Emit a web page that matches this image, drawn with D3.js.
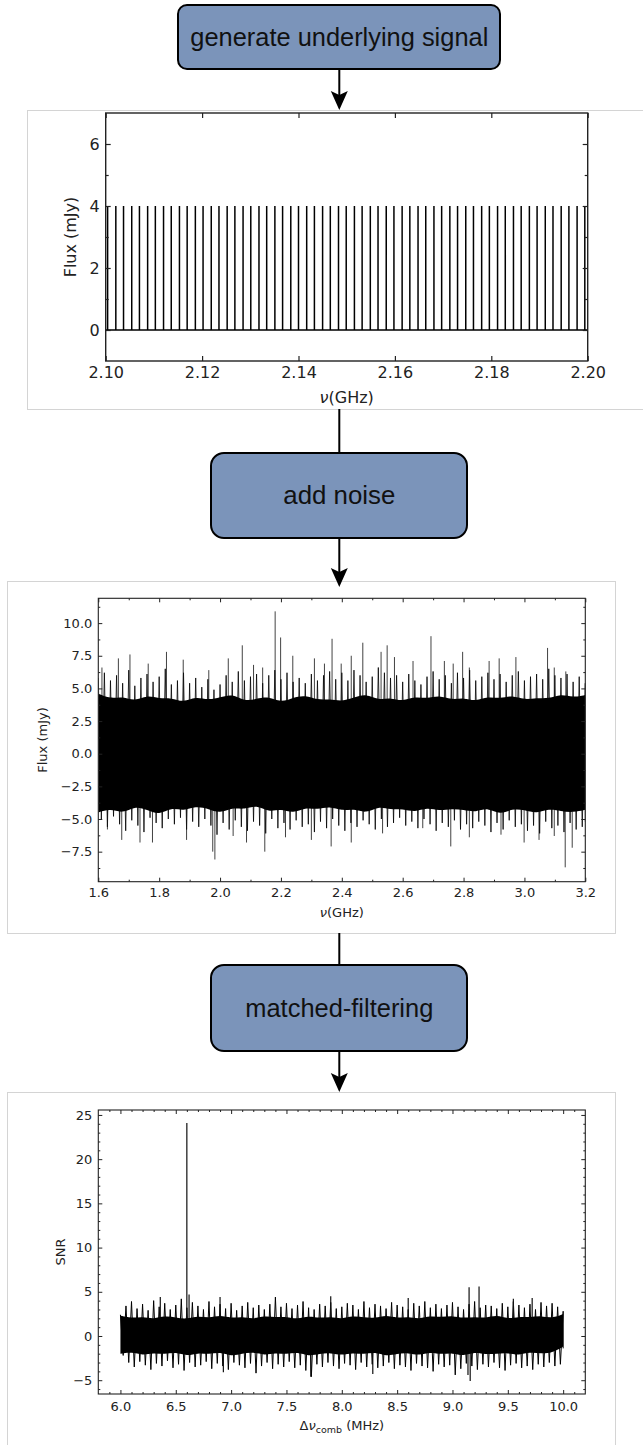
<!DOCTYPE html>
<html>
<head>
<meta charset="utf-8">
<script src="https://cdn.jsdelivr.net/npm/d3@7"></script>
<style>
  body { margin: 0; background: #fff; }
  svg { display: block; }
</style>
</head>
<body>
<script>
// ---- flow chart steps
var stepLabels = ['generate underlying signal', 'add noise', 'matched-filtering'];

// ---- panel 1: comb signal (GHz, mJy)
var combFreq = [2.1004, 2.1021, 2.1037, 2.1054, 2.1070, 2.1087, 2.1103, 2.1120, 2.1136, 2.1153,
  2.1169, 2.1186, 2.1202, 2.1219, 2.1235, 2.1252, 2.1268, 2.1285, 2.1301, 2.1318,
  2.1334, 2.1351, 2.1367, 2.1384, 2.1400, 2.1417, 2.1433, 2.1450, 2.1466, 2.1483,
  2.1499, 2.1516, 2.1532, 2.1549, 2.1565, 2.1582, 2.1598, 2.1615, 2.1631, 2.1648,
  2.1664, 2.1681, 2.1697, 2.1714, 2.1730, 2.1747, 2.1763, 2.1780, 2.1796, 2.1813,
  2.1829, 2.1846, 2.1862, 2.1879, 2.1895, 2.1912, 2.1928, 2.1945, 2.1961, 2.1978, 2.1994];
var combFlux = 4;
var combXTicks = [2.10, 2.12, 2.14, 2.16, 2.18, 2.20];
var combYTicks = [0, 2, 4, 6];
var combYMinor = [1, 3, 5];

// ---- panel 2: noisy spectrum, read as envelopes (1.60 -> 3.20 GHz)
var noiseCoreTop = [4.6, 4.2, 4.4, 4.0, 4.5, 4.2, 4.3, 3.9, 4.4, 4.1, 4.3, 4.6, 4.0, 4.2, 4.4, 3.9, 4.3, 4.5, 4.1, 4.2,
  4.0, 4.3, 4.6, 4.1, 4.3, 4.0, 4.4, 4.2, 4.5, 4.1, 4.3, 4.0, 4.4, 4.2, 4.5, 4.1, 4.3, 4.2, 4.6, 4.3, 4.5];
var noiseCoreBottom = [-4.5, -4.2, -4.6, -4.0, -4.3, -4.7, -4.1, -4.4, -4.0, -4.2, -4.6, -4.1, -4.3, -3.9, -4.5, -4.2, -4.6, -4.1, -4.3, -4.0,
  -4.4, -4.2, -4.6, -4.0, -4.3, -4.2, -4.5, -4.1, -4.4, -4.2, -4.3, -4.5, -4.1, -4.7, -4.2, -4.3, -4.6, -4.2, -4.4, -4.5, -4.3];
var noiseUpper = [5.8, 6.2, 5.6, 6.0, 5.4, 6.4, 5.2, 5.8, 6.1, 5.5, 5.9, 6.5, 5.3, 5.6, 6.2, 5.4, 5.8, 5.1, 5.7, 4.9,
  5.3, 6.0, 5.5, 6.3, 5.6, 5.9, 6.1, 5.4, 6.0, 6.4, 5.7, 6.2, 5.5, 5.8, 5.4, 6.1, 5.6, 6.0, 6.3, 5.7,
  6.2, 5.6, 6.4, 6.0, 5.5, 5.9, 6.6, 6.2, 5.8, 6.0, 5.5, 6.1, 5.6, 5.3, 5.9, 6.3, 5.7, 6.0, 5.4, 6.2,
  5.8, 6.4, 5.6, 5.9, 6.2, 5.7, 6.1, 5.5, 6.0, 6.3, 5.6, 5.9, 6.1, 5.7, 6.5, 6.0, 5.8, 6.1, 5.5, 5.9, 5.4];
var noiseLower = [-5.0, -5.6, -4.8, -5.4, -5.9, -5.1, -5.5, -6.0, -4.9, -5.3, -5.7, -5.0, -5.4, -4.9, -5.8, -5.2, -5.6, -5.0, -5.5, -6.2,
  -5.3, -5.8, -5.1, -5.6, -5.9, -5.2, -5.5, -6.1, -5.0, -5.7, -5.3, -5.8, -5.1, -5.6, -5.4, -6.0, -5.2, -5.7, -5.0, -5.5,
  -5.9, -5.3, -5.6, -5.1, -5.4, -5.8, -5.0, -5.6, -5.3, -4.9, -5.5, -5.2, -5.7, -5.0, -5.4, -5.9, -5.3, -5.6, -5.1, -5.8,
  -5.4, -5.7, -5.2, -5.5, -6.0, -5.3, -5.8, -5.1, -5.6, -5.4, -5.9, -5.5, -6.1, -5.2, -5.7, -5.5, -6.0, -5.3, -5.8, -5.6, -5.2];
var noiseSpikeFreq = [1.612, 1.666, 1.704, 1.764, 1.824, 1.879, 1.963, 2.027, 2.073, 2.110, 2.140, 2.181, 2.199, 2.239, 2.310,
  2.343, 2.368, 2.398, 2.431, 2.469, 2.529, 2.549, 2.573, 2.634, 2.693, 2.737, 2.766, 2.797, 2.819, 2.884, 2.917, 2.972,
  3.076, 3.098, 3.136,
  1.630, 1.677, 1.737, 1.778, 1.890, 1.976, 1.983, 2.043, 2.087, 2.147, 2.215, 2.300, 2.365, 2.431, 2.534, 2.666,
  2.758, 2.819, 2.923, 2.999, 3.048, 3.098, 3.134, 3.157];
var noiseSpikeFlux = [6.6, 7.3, 7.6, 6.9, 7.8, 7.2, 6.4, 7.3, 8.3, 6.8, 6.6, 10.9, 8.9, 7.5, 7.3,
  6.9, 8.8, 6.9, 7.5, 8.5, 7.8, 8.3, 7.4, 7.1, 9.0, 7.1, 6.9, 7.8, 6.6, 7.1, 7.3, 7.4,
  8.1, 6.6, 6.3,
  -5.8, -6.6, -6.8, -6.8, -6.6, -7.5, -8.1, -6.3, -6.8, -7.5, -6.4, -6.6, -7.1, -6.8, -6.1, -5.7,
  -7.1, -6.4, -6.2, -6.8, -6.6, -6.3, -8.7, -7.2];
var noiseXTicks = [1.6, 1.8, 2.0, 2.2, 2.4, 2.6, 2.8, 3.0, 3.2];
var noiseXMinor = [1.7, 1.9, 2.1, 2.3, 2.5, 2.7, 2.9, 3.1];
var noiseYTicks = [-7.5, -5.0, -2.5, 0.0, 2.5, 5.0, 7.5, 10.0];
var noiseYMinor = [-8.75, -6.25, -3.75, -1.25, 1.25, 3.75, 6.25, 8.75, 11.25];

// ---- panel 3: matched filter output (6.0 -> 10.0 MHz)
var snrCoreTop = [2.3, 2.0, 2.2, 1.9, 2.3, 2.1, 1.9, 2.3, 2.0, 2.4, 2.0, 2.2, 1.9, 2.3, 2.1, 2.2, 1.9, 2.3, 2.0, 2.2,
  1.9, 2.3, 2.1, 2.0, 2.4, 2.0, 2.2, 1.9, 2.3, 2.1, 2.3, 2.0, 2.2, 2.0, 2.4, 1.9, 2.2, 2.1, 2.3, 2.0, 2.5];
var snrCoreBottom = [-2.0, -1.8, -2.2, -1.9, -2.1, -1.8, -2.3, -1.9, -2.1, -1.8, -2.3, -2.0, -1.8, -2.2, -1.9, -2.1, -1.8, -2.3, -2.0, -1.9,
  -2.2, -1.9, -2.1, -1.8, -2.3, -2.0, -1.9, -2.2, -1.8, -2.1, -1.9, -2.3, -1.8, -2.1, -2.0, -1.9, -2.2, -1.8, -2.0, -1.9, -1.2];
var snrUpper = [2.4, 3.4, 3.9, 3.1, 3.6, 2.9, 4.0, 3.3, 3.7, 3.0, 3.5, 4.2, 3.2, 3.8, 3.4, 3.0, 3.9, 3.3, 3.6, 3.1,
  3.7, 2.9, 3.4, 3.8, 3.2, 3.5, 3.0, 3.6, 4.4, 3.3, 3.7, 3.1, 3.5, 3.9, 3.2, 3.0, 3.6, 3.4, 3.8, 3.1,
  3.3, 3.7, 3.5, 3.0, 3.9, 3.2, 3.6, 3.4, 3.1, 3.8, 3.5, 3.3, 3.0, 3.7, 3.4, 3.9, 3.2, 3.6, 3.1, 3.5,
  3.8, 3.3, 3.0, 3.6, 3.9, 3.2, 3.5, 3.4, 3.1, 3.7, 3.3, 3.9, 3.5, 3.2, 3.6, 3.0, 3.8, 3.4, 3.7, 3.3, 2.8];
var snrLower = [-2.2, -3.0, -3.5, -2.9, -3.3, -3.8, -3.1, -3.4, -2.8, -3.6, -3.2, -3.9, -3.0, -3.5, -3.3, -2.9, -3.7, -3.1, -3.4, -3.8,
  -3.0, -3.3, -3.6, -3.1, -4.2, -3.4, -3.0, -3.7, -3.2, -3.5, -2.9, -3.6, -3.3, -3.9, -4.6, -3.2, -3.5, -3.0, -3.4, -3.7,
  -3.1, -3.3, -3.8, -3.0, -3.5, -3.2, -3.6, -3.4, -3.0, -3.7, -3.3, -3.5, -3.9, -3.1, -3.4, -3.6, -4.0, -3.2, -3.5, -3.3,
  -4.4, -3.7, -3.1, -3.4, -3.8, -3.2, -3.5, -3.0, -3.6, -3.9, -3.3, -3.1, -3.6, -3.4, -3.8, -3.2, -3.5, -3.0, -3.4, -3.2, -1.4];
var snrSpikeFreq = [6.60, 6.62, 6.36, 6.90, 7.90, 8.60, 9.15, 9.24, 9.55, 9.72, 6.93, 7.72, 8.28, 9.14, 9.16];
var snrSpikeVal = [24.1, 4.7, 4.4, 4.4, 4.5, 4.3, 5.5, 5.6, 4.2, 4.3, -4.1, -4.6, -4.3, -4.4, -5.1];
var snrXTicks = [6.0, 6.5, 7.0, 7.5, 8.0, 8.5, 9.0, 9.5, 10.0];
var snrXMinor = [5.9, 6.1, 6.2, 6.3, 6.4, 6.6, 6.7, 6.8, 6.9, 7.1, 7.2, 7.3, 7.4, 7.6, 7.7, 7.8, 7.9,
  8.1, 8.2, 8.3, 8.4, 8.6, 8.7, 8.8, 8.9, 9.1, 9.2, 9.3, 9.4, 9.6, 9.7, 9.8, 9.9, 10.1];
var snrYTicks = [-5, 0, 5, 10, 15, 20, 25];
var snrYMinor = [-6, -4, -3, -2, -1, 1, 2, 3, 4, 6, 7, 8, 9, 11, 12, 13, 14, 16, 17, 18, 19, 21, 22, 23, 24];

var W = 643, H = 1445;
var svg = d3.select('body').append('svg').attr('width', W).attr('height', H);
var plotFont = 'DejaVu Sans, sans-serif';

// light frames around the three pasted figures
var frames = [
  {x: 27, y: 110, w: 700, h: 299},
  {x: 7, y: 581, w: 608, h: 352},
  {x: 7, y: 1092, w: 608, h: 400}
];
svg.selectAll('.frame').data(frames).enter().append('rect')
  .attr('class', 'frame')
  .attr('x', function(d) { return d.x + 0.5; })
  .attr('y', function(d) { return d.y + 0.5; })
  .attr('width', function(d) { return d.w; })
  .attr('height', function(d) { return d.h; })
  .attr('fill', 'none')
  .attr('stroke', '#d4d4d4')
  .attr('stroke-width', 1);

// ---- flow boxes + connectors
var cx = 339.3;
var boxes = [
  {x: 178, y: 5, w: 322, h: 64, r: 9, base: 46, tw: 298},
  {x: 211, y: 453, w: 256, h: 85, r: 13, base: 504, tw: 112},
  {x: 211, y: 965, w: 256, h: 86, r: 13, base: 1017, tw: 188}
];

var links = [
  {y0: 69, y1: 110, head: true},
  {y0: 409, y1: 453, head: false},
  {y0: 538, y1: 587, head: true},
  {y0: 933, y1: 965, head: false},
  {y0: 1051, y1: 1092, head: true}
];
links.forEach(function(l) {
  var yEnd = l.head ? l.y1 - 12 : l.y1;
  svg.append('line')
    .attr('x1', cx).attr('x2', cx)
    .attr('y1', l.y0).attr('y2', yEnd)
    .attr('stroke', '#000').attr('stroke-width', 2);
  if (l.head) {
    svg.append('path')
      .attr('d', 'M' + cx + ',' + l.y1 + ' L' + (cx - 8.5) + ',' + (l.y1 - 19) +
        ' L' + cx + ',' + (l.y1 - 15) + ' L' + (cx + 8.5) + ',' + (l.y1 - 19) + ' Z')
      .attr('fill', '#000');
  }
});

boxes.forEach(function(b, i) {
  svg.append('rect')
    .attr('x', b.x).attr('y', b.y)
    .attr('width', b.w).attr('height', b.h)
    .attr('rx', b.r).attr('ry', b.r)
    .attr('fill', '#7b94ba')
    .attr('stroke', '#000')
    .attr('stroke-width', 2);
  svg.append('text')
    .attr('x', cx).attr('y', b.base)
    .attr('text-anchor', 'middle')
    .attr('font-family', 'Liberation Sans, Arial, sans-serif')
    .attr('font-size', 25)
    .attr('textLength', b.tw)
    .attr('lengthAdjust', 'spacingAndGlyphs')
    .attr('fill', '#111')
    .text(stepLabels[i]);
});

// ---- generic matplotlib-like axes
function makeAxes(o) {
  var g = svg.append('g');
  var x = d3.scaleLinear().domain(o.xDomain).range([o.left, o.right]);
  var y = d3.scaleLinear().domain(o.yDomain).range([o.bottom, o.top]);

  var clipId = 'clip' + Math.round(o.top);
  svg.append('clipPath').attr('id', clipId).append('rect')
    .attr('x', o.left).attr('y', o.top)
    .attr('width', o.right - o.left).attr('height', o.bottom - o.top);
  var plot = svg.append('g').attr('clip-path', 'url(#' + clipId + ')');

  function side(axisFn, ticks, len, fmt, tx, ty, pad) {
    var a = axisFn(axisFn === d3.axisBottom || axisFn === d3.axisTop ? x : y)
      .tickValues(ticks)
      .tickSize(-len)
      .tickPadding(pad || 0)
      .tickFormat(fmt || function() { return ''; });
    var s = g.append('g').attr('transform', 'translate(' + tx + ',' + ty + ')').call(a);
    s.select('.domain').remove();
    s.selectAll('line').attr('stroke', '#222').attr('stroke-width', o.tickWidth);
    s.selectAll('text').attr('font-family', plotFont).attr('font-size', o.fontSize).attr('fill', '#222');
    return s;
  }

  side(d3.axisBottom, o.xTicks, o.majorLen, o.xFmt, 0, o.bottom, o.xPad);
  side(d3.axisTop, o.xTicks, o.majorLen, null, 0, o.top);
  side(d3.axisLeft, o.yTicks, o.majorLen, o.yFmt, o.left, 0, o.yPad);
  side(d3.axisRight, o.yTicks, o.majorLen, null, o.right, 0);
  if (o.xMinor) {
    side(d3.axisBottom, o.xMinor, o.minorLen, null, 0, o.bottom);
    side(d3.axisTop, o.xMinor, o.minorLen, null, 0, o.top);
  }
  if (o.yMinor) {
    side(d3.axisLeft, o.yMinor, o.minorLen, null, o.left, 0);
    side(d3.axisRight, o.yMinor, o.minorLen, null, o.right, 0);
  }

  g.append('rect')
    .attr('x', o.left).attr('y', o.top)
    .attr('width', o.right - o.left).attr('height', o.bottom - o.top)
    .attr('fill', 'none').attr('stroke', '#222').attr('stroke-width', o.spineWidth);

  return {x: x, y: y, plot: plot, g: g};
}

function axisLabels(o) {
  var xl = svg.append('text')
    .attr('x', (o.left + o.right) / 2).attr('y', o.xLabelY)
    .attr('text-anchor', 'middle')
    .attr('font-family', plotFont).attr('font-size', o.fontSize).attr('fill', '#222');
  o.xLabel(xl);
  svg.append('text')
    .attr('transform', 'translate(' + o.yLabelX + ',' + (o.top + o.bottom) / 2 + ') rotate(-90)')
    .attr('text-anchor', 'middle')
    .attr('font-family', plotFont).attr('font-size', o.fontSize).attr('fill', '#222')
    .text(o.yLabel);
}

function nuGHz(t) {
  t.append('tspan').attr('font-style', 'italic').text('ν');
  t.append('tspan').text('(GHz)');
}

// ---- panel 1
var o1 = {
  left: 105.7, right: 587.7, top: 113, bottom: 361,
  xDomain: [2.10, 2.20], yDomain: [-1, 7],
  xTicks: combXTicks, yTicks: combYTicks, yMinor: combYMinor,
  xFmt: d3.format('.2f'), yFmt: d3.format('d'),
  majorLen: 5, minorLen: 3, tickWidth: 1.2, spineWidth: 1.4,
  fontSize: 16, xPad: 6, yPad: 6,
  xLabelY: 403, yLabelX: 76, yLabel: 'Flux (mJy)', xLabel: nuGHz
};
var ax1 = makeAxes(o1);
var combPath = d3.path();
combPath.moveTo(ax1.x(2.10), ax1.y(0));
combFreq.forEach(function(f) {
  combPath.lineTo(ax1.x(f), ax1.y(0));
  combPath.lineTo(ax1.x(f), ax1.y(combFlux));
  combPath.lineTo(ax1.x(f), ax1.y(0));
});
combPath.lineTo(ax1.x(2.20), ax1.y(0));
ax1.plot.append('path')
  .attr('d', combPath.toString())
  .attr('fill', 'none').attr('stroke', '#000').attr('stroke-width', 1.5);
ax1.g.raise();
axisLabels(o1);

// ---- draws a dense noise band from the read envelopes
function drawBand(ax, lo, hi, core, coreLo, up, dn, spikeF, spikeV, lw, spikeW) {
  var upIdx = d3.scaleLinear().domain([0, up.length - 1]).range([lo, hi]);
  var half = (hi - lo) / (up.length - 1) / 2;
  var pts = [];
  up.forEach(function(v, i) {
    pts.push([ax.x(upIdx(i)), ax.y(v)]);
    pts.push([ax.x(Math.min(hi, upIdx(i) + half)), ax.y(dn[i])]);
  });
  ax.plot.append('path')
    .attr('d', d3.line()(pts))
    .attr('fill', 'none').attr('stroke', '#000').attr('stroke-width', lw);

  ax.plot.selectAll(null).data(spikeF).enter().append('line')
    .attr('x1', function(d) { return ax.x(d); })
    .attr('x2', function(d) { return ax.x(d); })
    .attr('y1', ax.y(0))
    .attr('y2', function(d, i) { return ax.y(spikeV[i]); })
    .attr('stroke', '#111').attr('stroke-width', spikeW);

  var coreIdx = d3.scaleLinear().domain([0, core.length - 1]).range([lo, hi]);
  var area = d3.area()
    .x(function(d, i) { return ax.x(coreIdx(i)); })
    .y0(function(d, i) { return ax.y(coreLo[i]); })
    .y1(function(d) { return ax.y(d); })
    .curve(d3.curveBasis);
  ax.plot.append('path').attr('d', area(core)).attr('fill', '#000');
}

// ---- panel 2
var o2 = {
  left: 98.3, right: 585.3, top: 598.3, bottom: 881.7,
  xDomain: [1.6, 3.2], yDomain: [-9.8, 11.9],
  xTicks: noiseXTicks, xMinor: noiseXMinor, yTicks: noiseYTicks, yMinor: noiseYMinor,
  xFmt: d3.format('.1f'), yFmt: d3.format('.1f'),
  majorLen: 4, minorLen: 2, tickWidth: 1, spineWidth: 1.1,
  fontSize: 13, xPad: 6, yPad: 6,
  xLabelY: 917, yLabelX: 47, yLabel: 'Flux (mJy)', xLabel: nuGHz
};
var ax2 = makeAxes(o2);
drawBand(ax2, 1.6, 3.2, noiseCoreTop, noiseCoreBottom, noiseUpper, noiseLower, noiseSpikeFreq, noiseSpikeFlux, 0.8, 0.8);
ax2.g.raise();
axisLabels(o2);

// ---- panel 3
var o3 = {
  left: 98.3, right: 585.3, top: 1110, bottom: 1394,
  xDomain: [5.8, 10.2], yDomain: [-6.56, 25.56],
  xTicks: snrXTicks, xMinor: snrXMinor, yTicks: snrYTicks, yMinor: snrYMinor,
  xFmt: d3.format('.1f'), yFmt: d3.format('d'),
  majorLen: 4, minorLen: 2, tickWidth: 1, spineWidth: 1.1,
  fontSize: 13, xPad: 8, yPad: 6,
  xLabelY: 1430, yLabelX: 65, yLabel: 'SNR',
  xLabel: function(t) {
    t.append('tspan').text('Δ');
    t.append('tspan').attr('font-style', 'italic').text('ν');
    t.append('tspan').attr('font-size', 9.5).attr('dy', 3).text('comb');
    t.append('tspan').attr('dy', -3).text(' (MHz)');
  }
};
var ax3 = makeAxes(o3);
drawBand(ax3, 6.0, 10.0, snrCoreTop, snrCoreBottom, snrUpper, snrLower, snrSpikeFreq, snrSpikeVal, 1.0, 1.2);
ax3.g.raise();
axisLabels(o3);
</script>
</body>
</html>
